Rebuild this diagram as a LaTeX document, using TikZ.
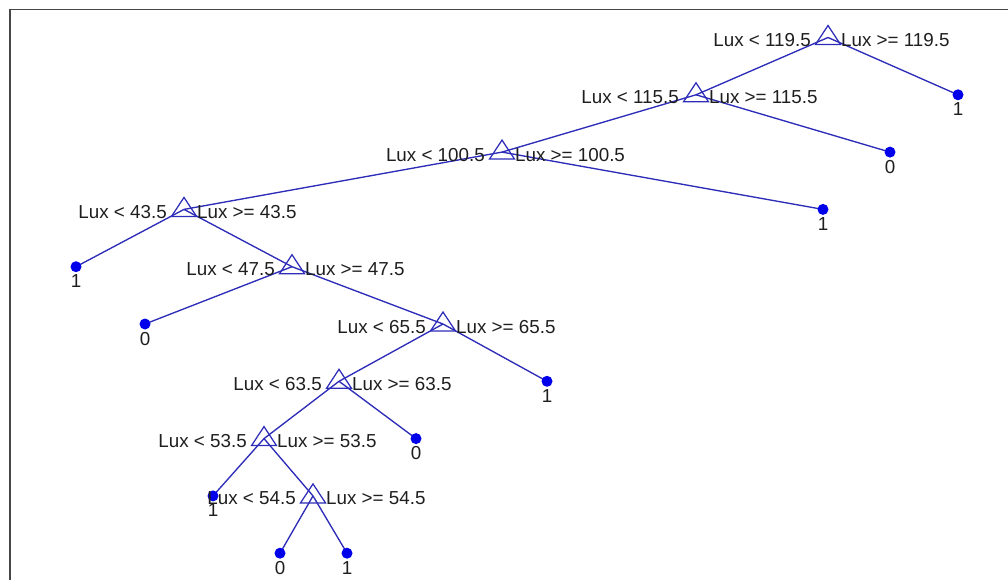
\documentclass[tikz,border=0pt]{standalone}
\usepackage{fontspec}
\setmainfont{Liberation Sans}
\begin{document}
\begin{tikzpicture}[x=1pt,y=-1pt,
  edge/.style={draw={rgb,255:red,45;green,45;blue,185},line width=1.35pt},
  branch/.style={inner sep=0pt,minimum size=0pt},
  leafdot/.style={circle,fill={rgb,255:red,0;green,0;blue,235},inner sep=0pt,minimum size=11pt},
  lbl/.style={inner sep=0pt,text={rgb,255:red,30;green,30;blue,30},font=\fontsize{18.8}{20}\selectfont},
  split/.pic={\draw[edge,line width=1.25pt] (-12.5,7) -- (0,-12) -- (12.5,7) -- cycle;},
  frame/.style={draw={rgb,255:red,70;green,70;blue,70},line width=1.8pt}]
\useasboundingbox (0,0) rectangle (1008,580);
% axes frame (top and left edges)
\coordinate (fA) at (10,580);
\coordinate (fB) at (10,9.5);
\coordinate (fC) at (1008,9.5);
\draw[frame] (fA) -- (fB) -- (fC);

% split nodes
\node[branch] (r0) at (828,37.5) {};
\node[branch] (n1) at (696,94.8) {};
\node[branch] (n2) at (502,152.1) {};
\node[branch] (n3) at (184,209.4) {};
\node[branch] (n4) at (292,266.7) {};
\node[branch] (n5) at (443,324) {};
\node[branch] (n6) at (339,381.3) {};
\node[branch] (n7) at (264,438.6) {};
\node[branch] (n8) at (313,495.9) {};
% leaves
\node[branch] (l1) at (958,94.8) {};
\node[branch] (l2) at (890,152.1) {};
\node[branch] (l3) at (823,209.4) {};
\node[branch] (l4) at (76,266.7) {};
\node[branch] (l5) at (145,324) {};
\node[branch] (l6) at (547,381.3) {};
\node[branch] (l7) at (416,438.6) {};
\node[branch] (l8) at (213,495.9) {};
\node[branch] (l9) at (280,553.2) {};
\node[branch] (l10) at (347,553.2) {};

% edges
\draw[edge] (r0.center) -- (n1.center);
\draw[edge] (r0.center) -- (l1.center);
\draw[edge] (n1.center) -- (n2.center);
\draw[edge] (n1.center) -- (l2.center);
\draw[edge] (n2.center) -- (n3.center);
\draw[edge] (n2.center) -- (l3.center);
\draw[edge] (n3.center) -- (l4.center);
\draw[edge] (n3.center) -- (n4.center);
\draw[edge] (n4.center) -- (l5.center);
\draw[edge] (n4.center) -- (n5.center);
\draw[edge] (n5.center) -- (n6.center);
\draw[edge] (n5.center) -- (l6.center);
\draw[edge] (n6.center) -- (n7.center);
\draw[edge] (n6.center) -- (l7.center);
\draw[edge] (n7.center) -- (l8.center);
\draw[edge] (n7.center) -- (n8.center);
\draw[edge] (n8.center) -- (l9.center);
\draw[edge] (n8.center) -- (l10.center);

% split markers
\foreach \n in {r0,n1,n2,n3,n4,n5,n6,n7,n8} {\pic at (\n.center) {split};}

% leaf markers
\foreach \n in {l1,l2,l3,l4,l5,l6,l7,l8,l9,l10} {\node[leafdot] at (\n.center) {};}

% split labels
\foreach \n/\v in {r0/119.5,n1/115.5,n2/100.5,n3/43.5,n4/47.5,n5/65.5,n6/63.5,n7/53.5,n8/54.5} {
  \node[lbl,anchor=base east] at ([xshift=-17pt,yshift=-9pt]\n.center) {Lux < \v};
  \node[lbl,anchor=base west] at ([xshift=13pt,yshift=-9pt]\n.center) {Lux >= \v};
}

% leaf labels
\foreach \n/\v in {l1/1,l2/0,l3/1,l4/1,l5/0,l6/1,l7/0,l8/1,l9/0,l10/1} {
  \node[lbl,anchor=base] at ([yshift=-21pt]\n.center) {\v};
}
\end{tikzpicture}
\end{document}
